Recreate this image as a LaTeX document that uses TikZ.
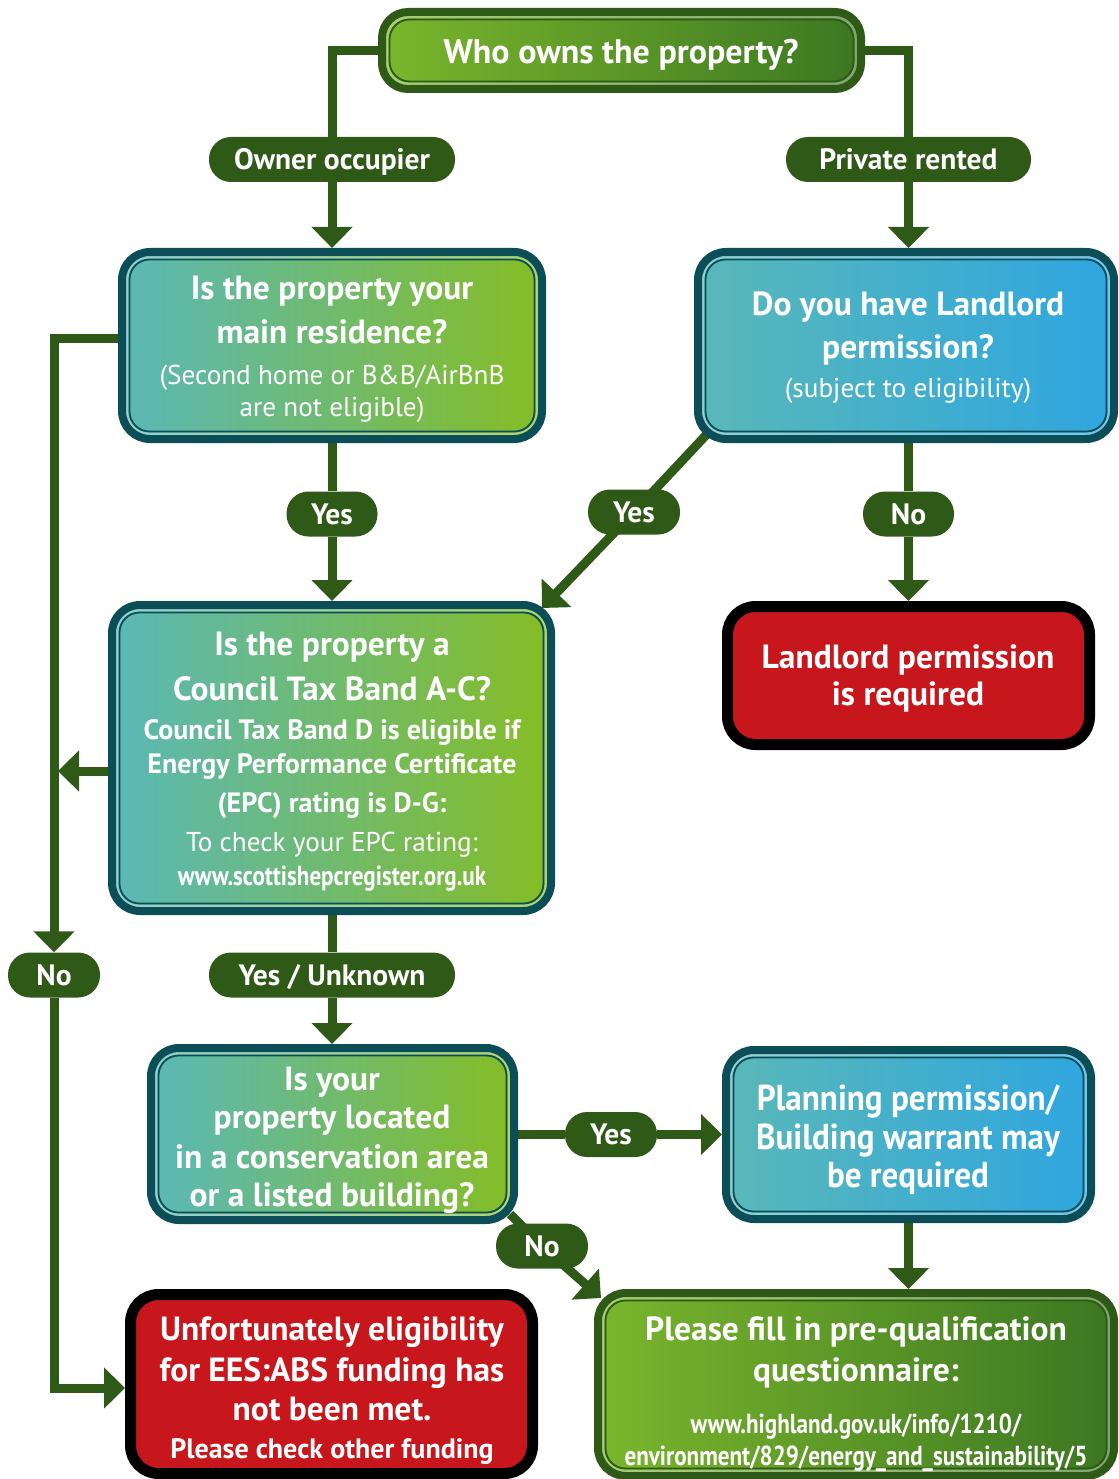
\documentclass[tikz,border=0pt]{standalone}
\usepackage{fontspec}
\setmainfont{PT Sans}
\newfontfamily\condfont[FakeStretch=0.84]{PT Sans}
\newfontfamily\semicond[FakeStretch=0.92]{PT Sans}
\usetikzlibrary{arrows.meta}
\definecolor{lg}{HTML}{2E5916}
\definecolor{topL}{HTML}{7AB62C}
\definecolor{topR}{HTML}{3C7722}
\definecolor{tealc}{HTML}{5AB8B8}
\definecolor{limec}{HTML}{86BD24}
\definecolor{bluec}{HTML}{2EA6E0}
\definecolor{tealbd}{HTML}{0C4E58}
\definecolor{redc}{HTML}{C8171C}
\pgfdeclarelayer{bg}
\pgfsetlayers{bg,main}
\newcommand\fH{\bfseries\fontsize{33.5}{38}\selectfont}
\newcommand\fS{\fontsize{27.2}{32}\selectfont}
\newcommand\fM{\bfseries\fontsize{28}{32}\selectfont}
\newcommand\fU{\condfont\bfseries\fontsize{27.5}{32}\selectfont}
\newcommand\fP{\semicond\bfseries\fontsize{36}{40}\selectfont}
\newcommand\txtl[5]{\node[txt,font=#4] (#1) at (#2,#3) {#5};}
\tikzset{
  conn/.style={draw=lg, line width=9pt},
  arr/.style={conn, -{Triangle[width=40pt,length=21pt]}},
  pill/.style={fill=lg, rounded corners=22pt, minimum height=45pt, text=white,
    font=\bfseries\fontsize{29.5}{32}\selectfont, inner sep=0pt, text height=20.5pt, text depth=0pt},
  txt/.style={anchor=base, text=white, inner sep=0pt},
  ring/.style={path picture={
    \draw[white, opacity=.35, line width=3pt, rounded corners=22pt]
      ([shift={(5pt,-5pt)}]path picture bounding box.north west) rectangle
      ([shift={(-5pt,5pt)}]path picture bounding box.south east);
    \draw[#1, line width=1.8pt, rounded corners=20pt]
      ([shift={(7.5pt,-7.5pt)}]path picture bounding box.north west) rectangle
      ([shift={(-7.5pt,7.5pt)}]path picture bounding box.south east);}},
  gbox/.style={rounded corners=28pt, line width=8pt, inner sep=0pt},
  greenbox/.style={gbox, draw=lg, left color=topL, right color=topR, ring=lg},
  tgbox/.style={gbox, draw=tealbd, left color=tealc, right color=limec, ring=tealbd},
  tbbox/.style={gbox, draw=tealbd, left color=tealc, right color=bluec, ring=tealbd},
  redbox/.style={rounded corners=28pt, line width=11pt, draw=black, fill=redc, inner sep=0pt}
}
\begin{document}
\begin{tikzpicture}[x=1pt,y=-1pt]
\useasboundingbox (0,0) rectangle (1118,1479);

% boxes
\node[greenbox, rounded corners=26pt, minimum width=479pt, minimum height=77pt] (T) at (621.5,50.5) {};
\node[tgbox, minimum width=420pt, minimum height=187pt] (Q1) at (332,345.5) {};
\node[tbbox, minimum width=416pt, minimum height=187pt] (Q2) at (906,345.5) {};
\node[redbox, minimum width=362pt, minimum height=138pt] (R1) at (908.5,675.5) {};
\node[tgbox, minimum width=439pt, minimum height=306pt] (Q3) at (331.5,758) {};
\node[tgbox, minimum width=363pt, minimum height=172pt] (Q4) at (332.5,1134) {};
\node[tbbox, minimum width=365pt, minimum height=169pt] (P) at (908.5,1134.5) {};
\node[greenbox, minimum width=516pt, minimum height=183pt] (F) at (856,1384.5) {};
\node[redbox, minimum width=402pt, minimum height=179pt] (R2) at (331.5,1384) {};

% pills
\node[pill, minimum width=246pt] (own) at (332,159.5) {Owner occupier};
\node[pill, minimum width=245pt] (priv) at (908.5,159.5) {Private rented};
\node[pill, minimum width=91pt] (yes1) at (332,514) {Yes};
\node[pill, minimum width=92pt] (yes2) at (634,512) {Yes};
\node[pill, minimum width=91pt] (no1) at (908.5,514) {No};
\node[pill, minimum width=92pt] (no2) at (54,975) {No};
\node[pill, minimum width=246pt] (ynk) at (332,975) {Yes / Unknown};
\node[pill, minimum width=92pt] (yes3) at (611,1134.5) {Yes};
\node[pill, minimum width=92pt] (no3) at (542,1246) {No};

\coordinate (s1) at (708,433);
\coordinate (t1) at (542,608);
\coordinate (s2) at (510,1214);
\coordinate (t2) at (601,1298);
\coordinate (t3) at (58,771);

% connectors
\begin{pgfonlayer}{bg}
\draw[conn] (T.west) -| (own.north);
\draw[arr] (own.south) -- (own.south |- Q1.north);
\draw[conn] (T.east) -| (priv.north);
\draw[arr] (priv.south) -- (priv.south |- Q2.north);
\draw[conn] (yes1.north |- Q1.south) -- (yes1.north);
\draw[arr] (yes1.south) -- (yes1.south |- Q3.north);
\draw[arr] (s1) -- (yes2.center) -- (t1);
\draw[conn] (no1.north |- Q2.south) -- (no1.north);
\draw[arr] (no1.south) -- (no1.south |- R1.north);
\draw[arr] ([yshift=7pt]Q1.west) -| (no2.north);
\draw[arr] ([yshift=-13pt]Q3.west) -- (t3);
\draw[arr] (no2.south) |- ([yshift=-4pt]R2.west);
\draw[conn] (ynk.north |- Q3.south) -- (ynk.north);
\draw[arr] (ynk.south) -- (ynk.south |- Q4.north);
\draw[conn] (yes3.west -| Q4.east) -- (yes3.west);
\draw[arr] (yes3.east) -- (yes3.east -| P.west);
\draw[arr] (P.south) -- (P.south |- F.north);
\draw[arr] (s2) -- (no3.center) -- (t2);
\end{pgfonlayer}

% texts
\txtl{tA}{621}{64}{\bfseries\fontsize{34}{38}\selectfont}{Who owns the property?}

\txtl{q1a}{332}{299}{\fH}{Is the property your}
\txtl{q1b}{332}{343}{\fH}{main residence?}
\txtl{q1c}{332}{384}{\fS}{(Second home or B\&B/AirBnB}
\txtl{q1d}{332}{416}{\fS}{are not eligible)}

\txtl{q2a}{908}{315}{\fH}{Do you have Landlord}
\txtl{q2b}{908}{358}{\fH}{permission?}
\txtl{q2c}{908}{397}{\fS}{(subject to eligibility)}

\txtl{r1a}{908}{668}{\fH}{Landlord permission}
\txtl{r1b}{908}{705}{\fH}{is required}

\txtl{q3a}{332}{655}{\fH}{Is the property a}
\txtl{q3b}{332}{700}{\fH}{Council Tax Band A-C?}
\txtl{q3c}{332}{739}{\fM}{Council Tax Band D is eligible if}
\txtl{q3d}{332}{773}{\fM}{Energy Performance Certificate}
\txtl{q3e}{332}{812}{\fM}{(EPC) rating is D-G:}
\txtl{q3f}{332}{851}{\fS}{To check your EPC rating:}
\txtl{q3g}{332}{885}{\fU}{www.scottishepcregister.org.uk}

\txtl{q4a}{332}{1090}{\fH}{Is your}
\txtl{q4b}{332}{1128}{\fH}{property located}
\txtl{q4c}{332}{1168}{\fH}{in a conservation area}
\txtl{q4d}{332}{1206}{\fH}{or a listed building?}

\txtl{pa}{908}{1110}{\fP}{Planning permission/}
\txtl{pb}{908}{1149}{\fP}{Building warrant may}
\txtl{pc}{908}{1187}{\fP}{be required}

\txtl{fa}{856}{1340}{\fH}{Please fill in pre-qualification}
\txtl{fb}{856}{1381}{\fH}{questionnaire:}
\txtl{fc}{856}{1433}{\fU}{www.highland.gov.uk/info/1210/}
\txtl{fd}{856}{1465}{\fU}{environment/829/energy\_and\_sustainability/5}

\txtl{r2a}{332}{1340}{\fH}{Unfortunately eligibility}
\txtl{r2b}{332}{1381}{\fH}{for EES:ABS funding has}
\txtl{r2c}{332}{1420}{\fH}{not been met.}
\txtl{r2d}{332}{1458}{\fM}{Please check other funding}
\end{tikzpicture}
\end{document}
